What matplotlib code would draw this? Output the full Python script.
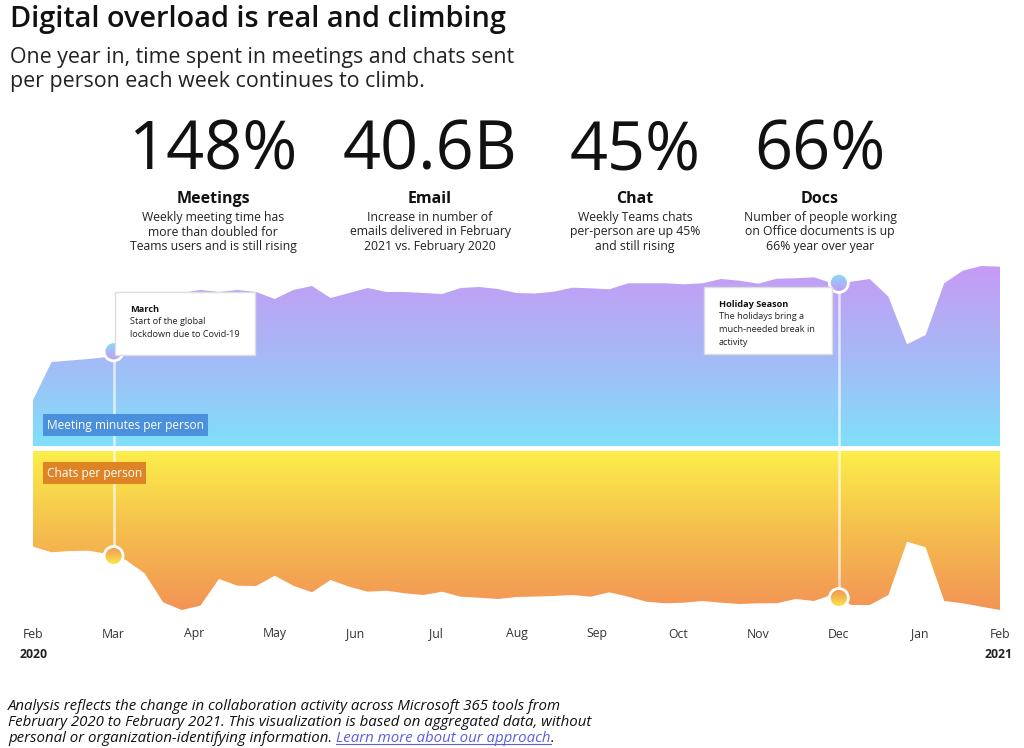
import matplotlib

matplotlib.use("Agg")
import matplotlib.pyplot as plt
import numpy as np
from matplotlib.colors import LinearSegmentedColormap
from matplotlib.patches import Rectangle, Ellipse
from matplotlib.lines import Line2D

plt.rcParams["font.family"] = ["Open Sans", "DejaVu Sans"]

# weekly values, Feb 2020 -> Feb 2021 (relative index)
meeting_minutes = [46, 84, 85.5, 87, 89, 106, 128, 146, 153, 156, 154, 156, 154,
                   147, 156, 160, 148, 153, 158, 154, 154, 153, 152, 158, 159, 157,
                   153, 152.5, 154.3, 158.3, 157.7, 156.7, 162.7, 162.7, 162.7, 161.7,
                   162.7, 167, 165.3, 162.3, 167.3, 167.7, 168.7, 162.5, 164.3, 167,
                   149.3, 101.7, 111, 162.7, 175.3, 180, 179.3]
chats = [95.7, 101.3, 100, 99.7, 103, 109, 122.3, 151.3, 159, 154.7, 128, 134.7, 135,
         124.7, 134.7, 141.3, 129, 135.7, 140.7, 139.7, 142.3, 144, 140.7, 145.7, 146.7,
         148, 146, 145.5, 145, 144, 145.7, 141.3, 145.7, 150.7, 152.3, 151.7, 150, 151.7,
         153, 152.3, 152.3, 148, 150, 143.5, 154, 154, 144, 90.7, 96.3, 150, 152.3,
         155.7, 159]
months = ["Feb", "Mar", "Apr", "May", "Jun", "Jul", "Aug", "Sep", "Oct", "Nov",
          "Dec", "Jan", "Feb"]

stat_values = ["148%", "40.6B", "45%", "66%"]
stat_names = ["Meetings", "Email", "Chat", "Docs"]
stat_notes = [
    "Weekly meeting time has\nmore than doubled for\nTeams users and is still rising",
    "Increase in number of\nemails delivered in February\n2021 vs. February 2020",
    "Weekly Teams chats\nper-person are up 45%\nand still rising",
    "Number of people working\non Office documents is up\n66% year over year",
]

events = [
    (1, "March", "Start of the global\nlockdown due to Covid-19"),
    (10, "Holiday Season", "The holidays bring a\nmuch-needed break in\nactivity"),
]

W, H = 1024, 748
fig = plt.figure(figsize=(W / 100, H / 100), dpi=100)
fig.patch.set_facecolor("white")


def fx(px):
    return px / W


def fy(py):
    return 1 - py / H


# ---- header ----
fig.text(fx(10), fy(20), "Digital overload is real and climbing", fontsize=20.8,
         fontweight="semibold", va="center", ha="left", color="#111111")
fig.text(fx(10), fy(57), "One year in, time spent in meetings and chats sent",
         fontsize=15.4, va="center", ha="left", color="#222222")
fig.text(fx(10), fy(82), "per person each week continues to climb.",
         fontsize=15.4, va="center", ha="left", color="#222222")

centers = [213, 430, 635, 820]
for cx, val, name, note in zip(centers, stat_values, stat_names, stat_notes):
    fig.text(fx(cx), fy(152), val, fontsize=48, fontweight="medium", ha="center",
             va="center", color="#111111")
    fig.text(fx(cx), fy(199), name, fontsize=11.5, fontweight="bold", ha="center",
             va="center", color="#111111")
    fig.text(fx(cx), fy(211), note, fontsize=8.8, ha="center", va="top",
             color="#222222", linespacing=1.15)

# ---- chart ----
left_px, right_px, top_px, bot_px = 33, 1000, 255, 615
mid_px = 448.5
ax = fig.add_axes([fx(left_px), fy(bot_px), (right_px - left_px) / W,
                   (bot_px - top_px) / H])
ax.axis("off")

x = np.arange(len(meeting_minutes)) * 12 / 52
m = np.array(meeting_minutes)
c = np.array(chats)
gap = 2.5

m_cols = ["#7FE0FB", "#A6B9F6", "#C69BF5"]
c_cols = ["#FCEE4A", "#F5BE4E", "#F39456"]
cmap_m = LinearSegmentedColormap.from_list("m", m_cols)
cmap_c = LinearSegmentedColormap.from_list("c", c_cols)
grad = np.linspace(0, 1, 256).reshape(-1, 1)

poly_m = ax.fill_between(x, gap, gap + m, color="none", lw=0)
im = ax.imshow(grad, cmap=cmap_m, aspect="auto", origin="lower",
               extent=[0, 12, gap, gap + m.max()], zorder=1)
im.set_clip_path(poly_m.get_paths()[0], transform=ax.transData)

poly_c = ax.fill_between(x, -gap, -gap - c, color="none", lw=0)
im2 = ax.imshow(grad, cmap=cmap_c, aspect="auto", origin="upper",
                extent=[0, 12, -gap - c.max(), -gap], zorder=1)
im2.set_clip_path(poly_c.get_paths()[0], transform=ax.transData)

# event markers: gradient dots with white rim
r_px = 9.5
rx = r_px * 12 / (right_px - left_px)
ry = r_px


def dot(cx, cy, cmap, origin):
    img = ax.imshow(grad, cmap=cmap, aspect="auto", origin=origin,
                    extent=[cx - rx, cx + rx, cy - ry, cy + ry], zorder=4)
    e = Ellipse((cx, cy), 2 * rx, 2 * ry, transform=ax.transData)
    img.set_clip_path(e)
    ax.add_patch(Ellipse((cx, cy), 2 * rx, 2 * ry, facecolor="none",
                         edgecolor="white", lw=2, zorder=5))


for ex, title, body in events:
    ym = gap + np.interp(ex * 52 / 12, np.arange(len(m)), m)
    yc = -gap - np.interp(ex * 52 / 12, np.arange(len(c)), c)
    ax.plot([ex, ex], [yc, ym], color="white", lw=1.8, alpha=0.7, zorder=3)
    dot(ex, ym, cmap_m, "upper")
    dot(ex, yc, cmap_c, "lower")

ax.set_xlim(0, 12)
ax.set_ylim(mid_px - bot_px, mid_px - top_px)

# annotation boxes (pixel placement)
boxes = [(115, 292, 140, 63), (704, 287, 128, 67)]
for (bx, by, bw, bh), (_, title, body) in zip(boxes, events):
    fig.patches.append(Rectangle((fx(bx), fy(by + bh)), bw / W, bh / H,
                                 transform=fig.transFigure, facecolor="white",
                                 edgecolor="#dddddd", lw=1, zorder=5))
    fig.text(fx(bx + 15), fy(by + 17), title, fontsize=6.6, fontweight="bold",
             va="center", ha="left", color="#111111", zorder=6)
    fig.text(fx(bx + 15), fy(by + 25), body, fontsize=6.6, va="top", ha="left",
             color="#222222", linespacing=1.55, zorder=6)

# series labels
fig.text(fx(47), fy(425), "Meeting minutes per person", fontsize=8.6, color="white",
         va="center", ha="left", zorder=6,
         bbox=dict(boxstyle="square,pad=0.35", fc="#4A90DC", ec="none"))
fig.text(fx(47), fy(473), "Chats per person", fontsize=8.6, color="white",
         va="center", ha="left", zorder=6,
         bbox=dict(boxstyle="square,pad=0.35", fc="#DE8426", ec="none"))

# month axis
for i, lab in enumerate(months):
    fig.text(fx(left_px + i * (right_px - left_px) / 12), fy(634), lab, fontsize=8.8,
             ha="center", va="center", color="#333333")
fig.text(fx(34), fy(655), "2020", fontsize=8.8, fontweight="bold", ha="center",
         va="center", color="#222222")
fig.text(fx(1013), fy(655), "2021", fontsize=8.8, fontweight="bold", ha="right",
         va="center", color="#222222")

# footer
foot = ["Analysis reflects the change in collaboration activity across Microsoft 365 tools from",
        "February 2020 to February 2021. This visualization is based on aggregated data, without",
        "personal or organization-identifying information. "]
fs = 10.8
for k, line in enumerate(foot):
    t = fig.text(fx(8), fy(706 + k * 16.5), line, fontsize=fs, style="italic",
                 ha="left", va="center", color="#111111")

fig.canvas.draw()
bb = t.get_window_extent()
link = fig.text(bb.x1 / W, fy(739), "Learn more about our approach", fontsize=fs,
                style="italic", ha="left", va="center", color="#5A5FE0")
fig.canvas.draw()
lb = link.get_window_extent()
fig.lines.append(Line2D([lb.x0 / W, lb.x1 / W], [lb.y0 / H + 0.003, lb.y0 / H + 0.003],
                        transform=fig.transFigure, color="#5A5FE0", lw=0.8))
fig.text(lb.x1 / W, fy(739), ".", fontsize=fs, style="italic", ha="left",
         va="center", color="#111111")

fig.savefig("out.png", dpi=100)
